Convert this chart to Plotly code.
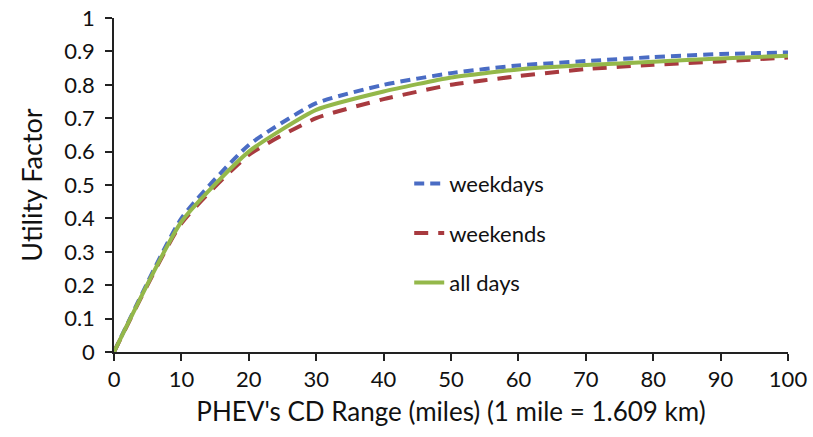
import plotly.graph_objects as go

cd_range = [0, 10, 20, 30, 40, 50, 60, 70, 80, 90, 100]
weekdays = [0, 0.40, 0.62, 0.745, 0.80, 0.835, 0.858, 0.871, 0.883, 0.892, 0.897]
weekends = [0, 0.385, 0.59, 0.70, 0.757, 0.80, 0.826, 0.847, 0.860, 0.870, 0.882]
all_days = [0, 0.39, 0.60, 0.725, 0.78, 0.822, 0.846, 0.859, 0.869, 0.879, 0.887]

y_ticks = [0, 0.1, 0.2, 0.3, 0.4, 0.5, 0.6, 0.7, 0.8, 0.9, 1]
y_labels = ["0", "0.1", "0.2", "0.3", "0.4", "0.5", "0.6", "0.7", "0.8", "0.9", "1"]
x_ticks = [0, 10, 20, 30, 40, 50, 60, 70, 80, 90, 100]

FONT = "Lato, 'Open Sans', sans-serif"

fig = go.Figure()
fig.add_trace(go.Scatter(x=cd_range, y=weekdays, mode="lines", name="weekdays",
                         legendgroup="a",
                         line=dict(color="#4A6CC4", width=4, dash="10px,6px", shape="spline", smoothing=0.5)))
fig.add_trace(go.Scatter(x=cd_range, y=weekends, mode="lines", name="weekends",
                         legendgroup="b",
                         line=dict(color="#A83A3F", width=4, dash="14px,10px", shape="spline", smoothing=0.5)))
fig.add_trace(go.Scatter(x=cd_range, y=all_days, mode="lines", name="all days",
                         legendgroup="c",
                         line=dict(color="#94B84A", width=4, shape="spline", smoothing=0.5)))

fig.update_layout(
    width=813, height=437,
    margin=dict(l=114, r=25, t=18, b=85),
    paper_bgcolor="white", plot_bgcolor="white",
    font=dict(family=FONT, color="#111111"),
    showlegend=True,
    legend=dict(x=0.438, y=0.356, xanchor="left", yanchor="middle",
                font=dict(family=FONT, size=22, color="#111111"),
                tracegroupgap=18, bgcolor="rgba(0,0,0,0)"),
    xaxis=dict(range=[0, 100], tickvals=x_ticks, showgrid=False, zeroline=False,
               showline=True, linecolor="#222222", linewidth=1.5, automargin=False,
               ticks="outside", ticklen=7, tickcolor="#222222", tickwidth=1.5,
               tickfont=dict(family=FONT, size=22, color="#111111"),
               title=dict(text="PHEV's CD Range (miles) (1 mile = 1.609 km)",
                          font=dict(family=FONT, size=26, color="#111111"), standoff=12)),
    yaxis=dict(range=[0, 1], tickvals=y_ticks, ticktext=y_labels, showgrid=False, zeroline=False,
               showline=True, linecolor="#222222", linewidth=1.5, automargin=False,
               ticks="outside", ticklen=7, tickcolor="#222222", tickwidth=1.5,
               ticklabelstandoff=6,
               tickfont=dict(family=FONT, size=22, color="#111111"),
               title=dict(text="Utility Factor",
                          font=dict(family=FONT, size=27, color="#111111"), standoff=14)),
)

fig.write_html("out.html", config={"displayModeBar": False},
               post_script="document.body.style.margin='0';document.body.style.overflow='hidden';")
